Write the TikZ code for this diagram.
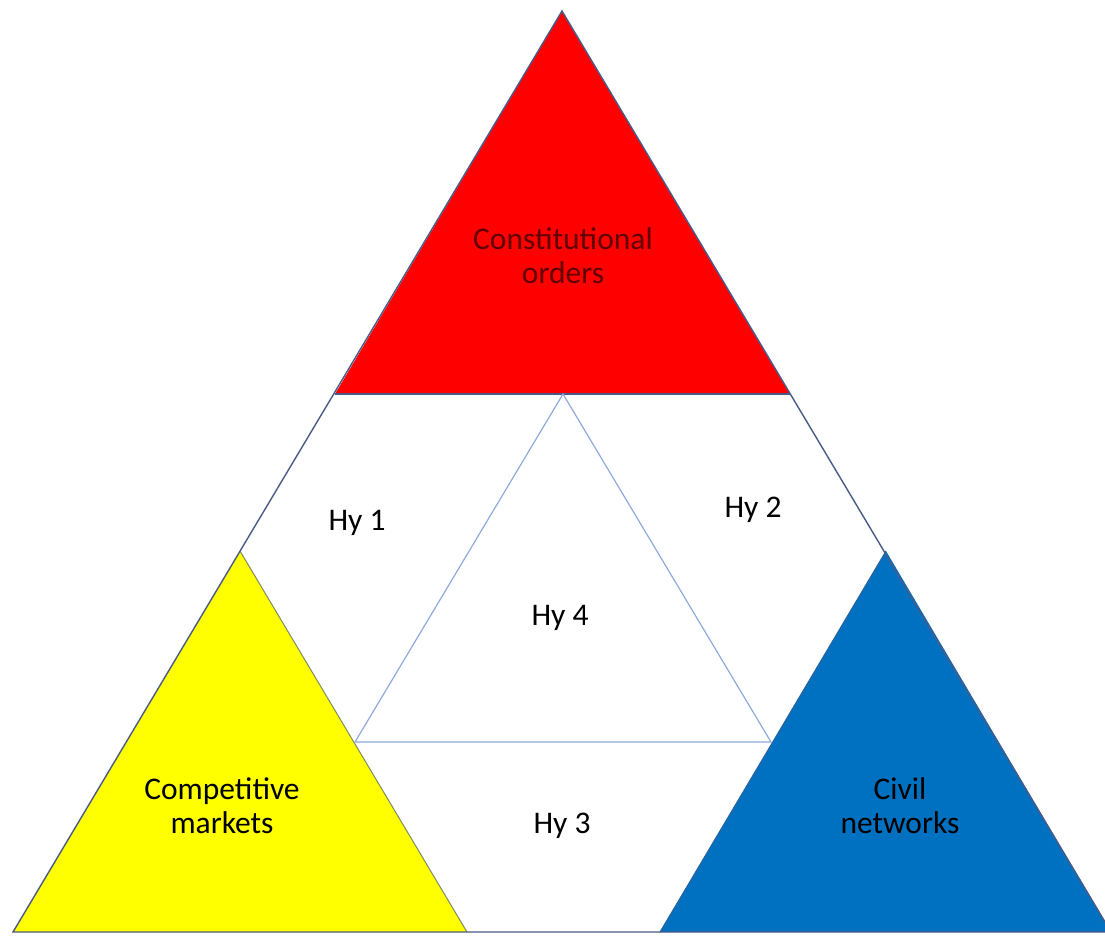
\documentclass[tikz,border=0pt]{standalone}
\usepackage{fontspec}
\setmainfont{Carlito}
\definecolor{cored}{HTML}{FF0000}
\definecolor{coyellow}{HTML}{FFFF00}
\definecolor{coblue}{HTML}{0070C0}
\definecolor{edgecol}{HTML}{4A5A86}
\definecolor{innercol}{HTML}{8FAADC}
\definecolor{redtext}{HTML}{600000}
\begin{document}
\begin{tikzpicture}[x=1pt,y=-1pt,
  lbl/.style={font=\fontsize{31.5}{34}\selectfont, align=center, text=black},
  outer/.style={draw=edgecol, line width=1.4pt, line join=miter},
  inner/.style={draw=innercol, line width=1.2pt}]
\useasboundingbox (0,0) rectangle (1105,935);
% key coordinates
\coordinate (A) at (562,11);
\coordinate (BL) at (13,932);
\coordinate (BR) at (1111,932);
\coordinate (RL) at (335,394);
\coordinate (RR) at (790,394);
\coordinate (YA) at (240,551);
\coordinate (YR) at (467,932);
\coordinate (BA) at (886,551);
\coordinate (BBL) at (660,932);
\coordinate (IA) at (563,394);
\coordinate (IL) at (355,742);
\coordinate (IR) at (771,742);
% fills
\fill[cored] (A) -- (RR) -- (RL) -- cycle;
\fill[coyellow] (YA) -- (YR) -- (BL) -- cycle;
\fill[coblue] (BA) -- (BR) -- (BBL) -- cycle;
% red base and inner colored edges
\draw[draw=edgecol, line width=1.2pt] (RL) -- (RR);
\draw[draw=edgecol!70!yellow, line width=1pt] (YA) -- (YR);
\draw[draw=edgecol!60!coblue, line width=1pt] (BA) -- (BBL);
% inner triangle
\draw[inner] (IA) -- (IR) -- (IL) -- cycle;
% outer triangle
\draw[outer] (A) -- (BR) -- (BL) -- cycle;
% labels
\node[lbl, text=redtext] (co) at (563,256) {Constitutional\\orders};
\node[lbl] (h1) at (357,523) {Hy 1};
\node[lbl] (h2) at (753,510) {Hy 2};
\node[lbl] (h4) at (560,618) {Hy 4};
\node[lbl] (h3) at (562,826) {Hy 3};
\node[lbl] (cm) at (222,806) {Competitive\\markets};
\node[lbl] (cn) at (900,806) {Civil\\networks};
\end{tikzpicture}
\end{document}
